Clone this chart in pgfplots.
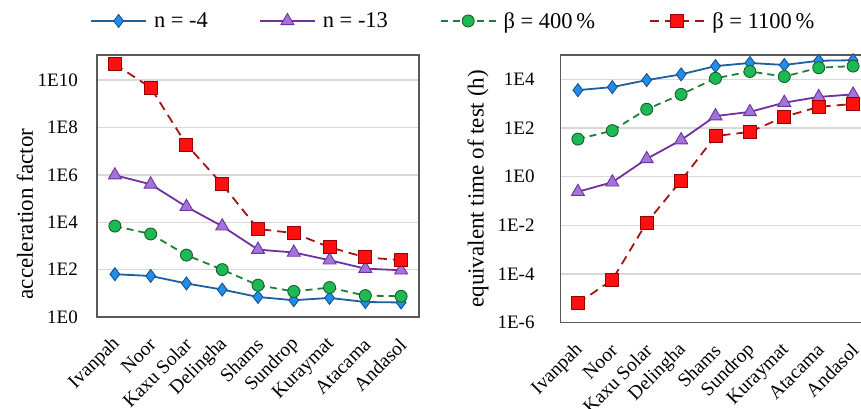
\documentclass[border=0pt]{standalone}
\usepackage{pgfplots}
\pgfplotsset{compat=1.18}
\usepackage{fontspec}
\setmainfont{Liberation Serif}
\definecolor{bline}{HTML}{1F5F9E}
\definecolor{bfill}{HTML}{1E8EE8}
\definecolor{bedge}{HTML}{1F4E8C}
\definecolor{pline}{HTML}{7030A0}
\definecolor{pfill}{HTML}{A274DA}
\definecolor{gline}{HTML}{1E7F38}
\definecolor{gfill}{HTML}{1DB954}
\definecolor{gedge}{HTML}{17602A}
\definecolor{rline}{HTML}{A31515}
\definecolor{rfill}{HTML}{FF1010}
\definecolor{redge}{HTML}{9B0000}
\definecolor{gridc}{HTML}{D9D9D9}
\definecolor{axc}{HTML}{595959}

\pgfplotsset{
  every axis/.append style={
    scale only axis,
    xmin=-0.5, xmax=8.5, xtick={0,1,2,3,4,5,6,7,8},
    xticklabels={Ivanpah,Noor,Kaxu Solar,Delingha,Shams,Sundrop,Kuraymat,Atacama,Andasol},
    major tick length=0pt, minor tick length=0pt, yminorticks=false,
    ymajorgrids, grid style={gridc, line width=1.5pt},
    axis line style={axc, line width=1.3pt},
    clip=false,
    /pgf/number format/assume math mode=true,
    xticklabel style={font=\fontsize{19.5}{19.5}\selectfont, inner sep=0pt, xshift=2pt, yshift=-24.5pt, rotate=45, anchor=east},
    yticklabel style={font=\fontsize{19}{19}\selectfont, inner sep=0pt, anchor=east},
    ylabel style={font=\fontsize{23}{23}\selectfont, anchor=center, rotate=0},
  },
  legend image code/.code={\draw[#1, mark repeat=2, mark phase=2] plot coordinates {(0pt,0pt) (27.5pt,0pt) (55pt,0pt)};},
}
\tikzset{
  mysb/.style={bline, line width=1.8pt, mark=diamond*, mark size=6.5pt, mark options={fill=bfill, draw=bedge, line width=0.9pt, solid}},
  mysp/.style={pline, line width=1.8pt, mark=triangle*, mark size=7.5pt, mark options={fill=pfill, draw=pline, line width=0.9pt, solid}},
  mysg/.style={gline, line width=1.8pt, dash pattern=on 7pt off 5pt, mark=*, mark size=6pt, mark options={fill=gfill, draw=gedge, line width=0.9pt, solid}},
  mysr/.style={rline, line width=1.8pt, dash pattern=on 9pt off 6pt, mark=square*, mark size=6.5pt, mark options={fill=rfill, draw=redge, line width=0.9pt, solid}},
}

\begin{document}
\begin{tikzpicture}
\useasboundingbox (0,0) rectangle (861pt,408pt);
% left axis
\begin{axis}[
  ymode=log,
  at={(97pt,91pt)}, anchor=south west, width=322pt, height=262pt,
  ymin=1, ymax=1.15e11,
  ytick={1,1e2,1e4,1e6,1e8,1e10},
  yticklabels={1E0,1E2,1E4,1E6,1E8,1E10},
  yticklabel style={xshift=-19pt},
  ylabel={acceleration factor},
  ylabel style={at={(axis description cs:-0.224,0.393)}},
  legend columns=4,
  legend style={draw=none, fill=none, inner sep=0pt, font=\fontsize{22.5}{22.5}\selectfont,
    at={(axis description cs:-0.0217,1.13)}, anchor=west,
    nodes={inner sep=0pt},
    /tikz/every odd column/.append style={column sep=7pt},
    /tikz/every even column/.append style={column sep=0pt},
    cells={anchor=west}},
]
\addplot[mysb] coordinates {(0,64) (1,54) (2,26) (3,14.4) (4,7) (5,5.1) (6,6.4) (7,4.3) (8,4.1)};
\addlegendentry{\makebox[105pt][l]{n = -4}}
\addplot[mysp] coordinates {(0,9.7e5) (1,4e5) (2,4.5e4) (3,6.8e3) (4,700) (5,530) (6,250) (7,110) (8,94)};
\addlegendentry{\makebox[117pt][l]{n = -13}}
\addplot[mysg] coordinates {(0,6.9e3) (1,3.2e3) (2,410) (3,100) (4,22) (5,12) (6,17.5) (7,8) (8,7.5)};
\addlegendentry{\makebox[145pt][l]{β = 400\,\%}}
\addplot[mysr] coordinates {(0,4.7e10) (1,4.8e9) (2,1.9e7) (3,4.0e5) (4,5.2e3) (5,3.5e3) (6,880) (7,330) (8,250)};
\addlegendentry{β = 1100\,\%}
\end{axis}
% right axis
\begin{axis}[
  ymode=log,
  at={(560.7pt,85.3pt)}, anchor=south west, width=309.6pt, height=267.7pt,
  ymin=1e-6, ymax=1e5,
  ytick={1e-6,1e-4,1e-2,1,1e2,1e4},
  yticklabels={1E-6,1E-4,1E-2,1E0,1E2,1E4},
  yticklabel style={xshift=-26pt},
  ylabel={equivalent time of test (h)},
  ylabel style={at={(axis description cs:-0.267,0.5)}},
]
\addplot[mysb] coordinates {(0,3.6e3) (1,4.8e3) (2,9.3e3) (3,1.6e4) (4,3.5e4) (5,4.7e4) (6,3.9e4) (7,5.8e4) (8,6.1e4)};
\addplot[mysp] coordinates {(0,0.24) (1,0.59) (2,5.4) (3,32) (4,310) (5,460) (6,1100) (7,1900) (8,2400)};
\addplot[mysg] coordinates {(0,35) (1,78) (2,590) (3,2400) (4,1.1e4) (5,2.1e4) (6,1.3e4) (7,3e4) (8,3.5e4)};
\addplot[mysr] coordinates {(0,6.3e-6) (1,5.8e-5) (2,0.013) (3,0.69) (4,47) (5,69) (6,290) (7,740) (8,970)};
\end{axis}
\end{tikzpicture}
\end{document}
